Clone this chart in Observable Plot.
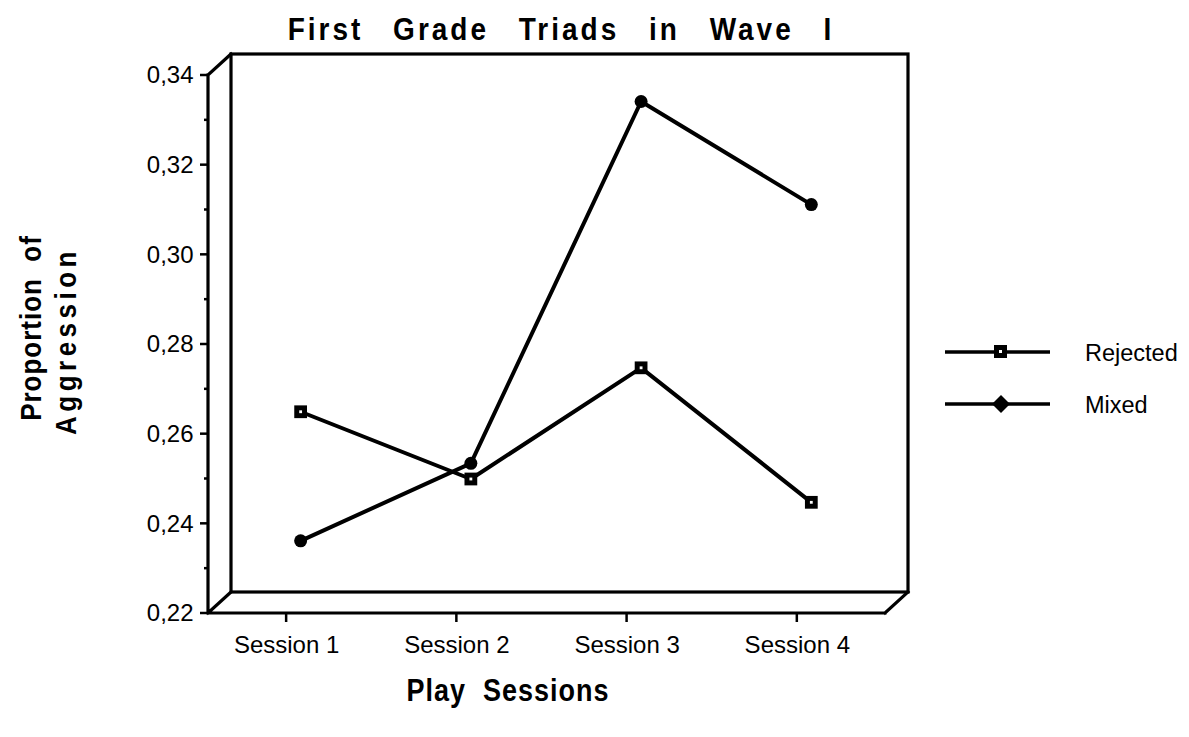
<!DOCTYPE html>
<html>
<head>
<meta charset="utf-8">
<script src="https://cdn.jsdelivr.net/npm/d3@7"></script>
<script src="https://cdn.jsdelivr.net/npm/@observablehq/plot@0.6"></script>
<style>
  html, body { margin: 0; padding: 0; background: #fff; }
  #wrap { position: relative; width: 1189px; height: 737px; }
  #wrap svg { position: absolute; left: 0; top: 0; }
  #overlay { pointer-events: none; }
</style>
</head>
<body>
<div id="wrap"></div>
<script>
// ---- data ----
const sessions = [1, 2, 3, 4];
const sessionLabels = ["Session 1", "Session 2", "Session 3", "Session 4"];
const rejected = [0.265, 0.250, 0.2748, 0.2448];
const mixed = [0.2362, 0.2535, 0.3342, 0.3112];
const yTicks = [0.22, 0.24, 0.26, 0.28, 0.30, 0.32, 0.34];
const yMinorTicks = [0.23, 0.25, 0.27, 0.29, 0.31, 0.33];
const seriesNames = ["Rejected", "Mixed"];
const titleText = "First Grade Triads in Wave I";
const yTitle = ["Proportion  of", "Aggression"];
const xTitle = "Play  Sessions";

const rows = [];
sessions.forEach((s, i) => {
  rows.push({session: s, value: rejected[i], series: "Rejected"});
  rows.push({session: s, value: mixed[i], series: "Mixed"});
});
const rejRows = rows.filter(d => d.series === "Rejected");
const mixRows = rows.filter(d => d.series === "Mixed");

const W = 1189, H = 737;
const depthX = 23, depthY = -21;
const dataDx = 14;
const font = "'Liberation Sans', Arial, Helvetica, sans-serif";

// 3D box frame + ticks drawn from the scales
function box(index, scales, values, dimensions) {
  const {width, height, marginLeft, marginRight, marginTop, marginBottom} = dimensions;
  const L = marginLeft, R = width - marginRight, T = marginTop, B = height - marginBottom;
  const g = d3.create("svg:g")
    .attr("fill", "none").attr("stroke", "black")
    .attr("stroke-width", 3.2).attr("stroke-linejoin", "miter").attr("stroke-linecap", "square");
  const bl = L + depthX, bt = T + depthY, br = R + depthX, bb = B + depthY;
  g.append("rect").attr("x", bl).attr("y", bt).attr("width", br - bl).attr("height", bb - bt);
  g.append("path").attr("d",
    `M${L},${T}L${L},${B}L${R},${B}` +
    `M${L},${T}L${bl},${bt}` +
    `M${L},${B}L${bl},${bb}` +
    `M${R},${B}L${br},${bb}`);
  const t = g.append("g").attr("stroke-width", 2.5).attr("stroke-linecap", "butt");
  yTicks.forEach(v => { const y = scales.y(v); t.append("line").attr("x1", L - 8).attr("x2", L).attr("y1", y).attr("y2", y); });
  yMinorTicks.forEach(v => { const y = scales.y(v); t.append("line").attr("x1", L - 4).attr("x2", L).attr("y1", y).attr("y2", y); });
  sessions.forEach(s => { const x = scales.x(s); t.append("line").attr("x1", x).attr("x2", x).attr("y1", B).attr("y2", B + 9); });
  return g.node();
}

const plot = Plot.plot({
  width: W,
  height: H,
  marginLeft: 208,
  marginRight: 304,
  marginTop: 75,
  marginBottom: 124,
  style: {fontSize: "24px", fontFamily: font, color: "black", background: "white"},
  x: {type: "linear", domain: [0.541, 4.518], ticks: sessions, tickFormat: d => sessionLabels[d - 1] || "", tickSize: 0, tickPadding: 22, label: null, line: false},
  y: {domain: [0.22, 0.34], ticks: yTicks, tickFormat: d => d.toFixed(2).replace(".", ","), tickSize: 0, tickPadding: 15, label: null, line: false},
  marks: [
    box,
    Plot.line(rejRows, {x: "session", y: "value", stroke: "black", strokeWidth: 4, dx: dataDx}),
    Plot.line(mixRows, {x: "session", y: "value", stroke: "black", strokeWidth: 4, dx: dataDx}),
    Plot.dot(mixRows, {x: "session", y: "value", r: 6.5, fill: "black", stroke: "none", dx: dataDx}),
    Plot.dot(rejRows, {x: "session", y: "value", symbol: "square", r: 7.2, fill: "black", stroke: "none", dx: dataDx}),
    Plot.dot(rejRows, {x: "session", y: "value", symbol: "square", r: 1.6, fill: "white", stroke: "none", dx: dataDx})
  ]
});
document.getElementById("wrap").appendChild(plot);

// overlay: title, axis titles, legend
const ov = d3.select("#wrap").append("svg").attr("id", "overlay")
  .attr("width", W).attr("height", H).attr("font-family", font);

ov.append("text").attr("transform", "translate(561,40) scale(1,1.1)").attr("text-anchor", "middle")
  .attr("font-size", 28).attr("font-weight", "bold").attr("letter-spacing", 3).attr("word-spacing", 19)
  .style("white-space", "pre").text(titleText);

ov.append("text").attr("transform", "translate(508,701) scale(1,1.15)").attr("text-anchor", "middle")
  .attr("font-size", 27).attr("font-weight", "bold").attr("letter-spacing", 1)
  .style("white-space", "pre").text(xTitle);

ov.append("text").attr("transform", "translate(41,328) rotate(-90) scale(1,1.15)").attr("text-anchor", "middle")
  .attr("font-size", 26).attr("font-weight", "bold").attr("letter-spacing", 1)
  .style("white-space", "pre").text(yTitle[0]);
ov.append("text").attr("transform", "translate(76,341) rotate(-90) scale(1,1.15)").attr("text-anchor", "middle")
  .attr("font-size", 26).attr("font-weight", "bold").attr("letter-spacing", 4.5)
  .style("white-space", "pre").text(yTitle[1]);

// legend
const leg = ov.append("g");
const legY = [352, 404];
seriesNames.forEach((name, i) => {
  const y = legY[i];
  leg.append("line").attr("x1", 945).attr("x2", 1050).attr("y1", y).attr("y2", y).attr("stroke", "black").attr("stroke-width", 3.5);
  if (name === "Rejected") {
    leg.append("rect").attr("x", 994).attr("y", y - 7).attr("width", 13).attr("height", 13).attr("fill", "black");
    leg.append("rect").attr("x", 999).attr("y", y - 2).attr("width", 3).attr("height", 3).attr("fill", "white");
  } else {
    leg.append("path").attr("d", `M1001,${y - 9}L1010,${y}L1001,${y + 9}L992,${y}Z`).attr("fill", "black");
  }
  leg.append("text").attr("x", 1085).attr("y", y + 9).attr("font-size", 23.5).text(name);
});
</script>
</body>
</html>
